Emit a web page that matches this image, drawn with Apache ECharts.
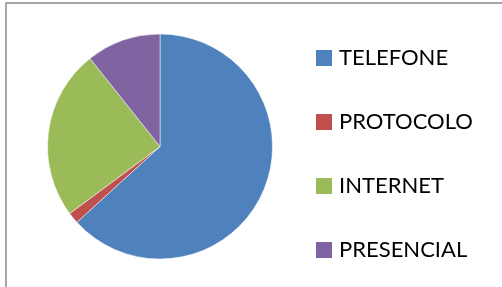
<!DOCTYPE html>
<html>
<head>
<meta charset="utf-8">
<script src="https://cdn.jsdelivr.net/npm/echarts@6/dist/echarts.min.js"></script>
<style>
  html, body { margin: 0; padding: 0; background: #fff; }
  #chart { width: 502px; height: 287px; }
</style>
</head>
<body>
<div id="chart"></div>
<script>
// categories and shares (percent)
const categories = ['TELEFONE', 'PROTOCOLO', 'INTERNET', 'PRESENCIAL'];
const values = [63.3, 1.6, 24.5, 10.7];
const colors = ['#4F81BD', '#C0504D', '#9BBB59', '#8064A2'];

const chart = echarts.init(document.getElementById('chart'), null, { renderer: 'canvas' });

const pieData = categories.map((name, i) => ({
    name: name,
    value: values[i],
    itemStyle: { color: colors[i] }
}));

chart.setOption({
    animation: false,
    backgroundColor: '#fff',
    graphic: [{
        // chart frame, only top and left edges are inside the picture
        type: 'rect',
        shape: { x: 6, y: 3, width: 600, height: 400 },
        style: { fill: 'none', stroke: '#8a8a8a', lineWidth: 1.5 },
        silent: true
    }],
    legend: {
        orient: 'vertical',
        left: 309,
        top: 42,
        itemWidth: 18,
        itemHeight: 18,
        itemGap: 42,
        icon: 'rect',
        selectedMode: false,
        textStyle: {
            fontFamily: 'Lato',
            fontSize: 22,
            color: '#000',
            padding: [0, 0, 0, 1]
        },
        data: categories
    },
    series: [{
        type: 'pie',
        center: [160, 146.5],
        radius: [0, 112.5],
        startAngle: 90,
        clockwise: true,
        label: { show: false },
        labelLine: { show: false },
        emphasis: { disabled: true },
        itemStyle: { borderColor: '#fff', borderWidth: 0.5 },
        data: pieData
    }]
});
</script>
</body>
</html>
